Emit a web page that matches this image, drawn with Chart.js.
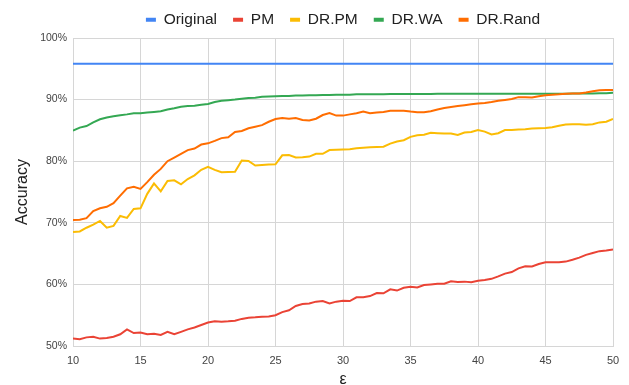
<!DOCTYPE html>
<html><head><meta charset="utf-8">
<script src="https://cdn.jsdelivr.net/npm/chart.js@4.4.1/dist/chart.umd.min.js"></script>
<style>html,body{margin:0;padding:0;background:#fff;}#wrap{width:629px;height:385px;position:relative;}</style>
</head><body><div id="wrap"><canvas id="c"></canvas></div>
<script>
const epsilon = [
  10, 10.5, 11, 11.5, 12, 12.5, 13, 13.5, 14, 14.5,
  15, 15.5, 16, 16.5, 17, 17.5, 18, 18.5, 19, 19.5,
  20, 20.5, 21, 21.5, 22, 22.5, 23, 23.5, 24, 24.5,
  25, 25.5, 26, 26.5, 27, 27.5, 28, 28.5, 29, 29.5,
  30, 30.5, 31, 31.5, 32, 32.5, 33, 33.5, 34, 34.5,
  35, 35.5, 36, 36.5, 37, 37.5, 38, 38.5, 39, 39.5,
  40, 40.5, 41, 41.5, 42, 42.5, 43, 43.5, 44, 44.5,
  45, 45.5, 46, 46.5, 47, 47.5, 48, 48.5, 49, 49.5,
  50
];
const originalEps = [10, 50];
const originalAcc = [95.8, 95.8];
const pmAcc = [
  51.2, 51.1, 51.4, 51.5, 51.2, 51.3, 51.5, 51.9, 52.7, 52.1,
  52.2, 51.9, 52.0, 51.8, 52.3, 51.9, 52.3, 52.7, 53.0, 53.4,
  53.8, 54.0, 53.95, 54.0, 54.1, 54.4, 54.6, 54.65, 54.75, 54.8,
  55.0, 55.5, 55.8, 56.5, 56.8, 56.9, 57.2, 57.3, 56.9, 57.2,
  57.35, 57.3, 57.9, 57.9, 58.1, 58.6, 58.55, 59.2, 59.0, 59.45,
  59.6, 59.5, 59.9, 60.0, 60.1, 60.1, 60.5, 60.4, 60.45, 60.35,
  60.6, 60.7, 60.9, 61.3, 61.75, 62.0, 62.6, 62.95, 62.9, 63.3,
  63.6, 63.6, 63.6, 63.7, 64.0, 64.35, 64.8, 65.1, 65.4, 65.5,
  65.65
];
const drpmAcc = [
  68.5, 68.6, 69.2, 69.7, 70.3, 69.2, 69.5, 71.1, 70.8, 72.25,
  72.35, 74.7, 76.4, 75.1, 76.8, 76.9, 76.25, 77.1, 77.7, 78.6,
  79.1, 78.6, 78.2, 78.25, 78.3, 80.1, 80.05, 79.3, 79.4, 79.45,
  79.5, 80.95, 81.0, 80.6, 80.65, 80.75, 81.2, 81.2, 81.8, 81.85,
  81.9, 81.95, 82.1, 82.2, 82.25, 82.3, 82.35, 82.85, 83.2, 83.4,
  83.95, 84.2, 84.3, 84.6, 84.55, 84.5, 84.5, 84.25, 84.65, 84.75,
  85.05, 84.8, 84.35, 84.55, 85.05, 85.05, 85.15, 85.2, 85.3, 85.35,
  85.4, 85.5, 85.75, 85.95, 86.0, 86.0, 85.9, 86.0, 86.3, 86.4,
  86.85
];
const drwaAcc = [
  84.95, 85.45, 85.7, 86.3, 86.8, 87.1, 87.3, 87.45, 87.6, 87.8,
  87.8, 87.9, 88.0, 88.1, 88.4, 88.6, 88.85, 88.95, 89.0, 89.15,
  89.3, 89.6, 89.8, 89.9, 90.0, 90.15, 90.25, 90.3, 90.45, 90.5,
  90.55, 90.6, 90.6, 90.65, 90.65, 90.7, 90.7, 90.75, 90.75, 90.8,
  90.8, 90.8, 90.85, 90.85, 90.85, 90.85, 90.85, 90.9, 90.9, 90.9,
  90.9, 90.9, 90.9, 90.9, 90.95, 90.95, 90.95, 90.95, 90.95, 90.95,
  90.95, 90.95, 90.95, 90.95, 90.95, 90.95, 90.95, 90.95, 90.95, 90.95,
  90.95, 90.95, 90.95, 90.95, 91.0, 91.0, 91.0, 91.0, 91.05, 91.05,
  91.1
];
const drrandAcc = [
  70.45, 70.5, 70.75, 71.9, 72.35, 72.6, 73.2, 74.4, 75.6, 75.85,
  75.5, 76.6, 77.8, 78.75, 80.0, 80.6, 81.2, 81.8, 82.05, 82.7,
  82.9, 83.3, 83.75, 83.9, 84.75, 84.9, 85.35, 85.6, 85.85, 86.4,
  86.85, 87.0, 86.9, 87.0, 86.7, 86.6, 86.9, 87.5, 87.8, 87.4,
  87.4, 87.6, 87.8, 88.05, 87.8, 87.9, 88.0, 88.2, 88.2, 88.2,
  88.05, 87.95, 87.95, 88.1, 88.4, 88.65, 88.8, 88.95, 89.1, 89.25,
  89.35, 89.45, 89.6, 89.8, 89.95, 90.1, 90.4, 90.4, 90.35, 90.55,
  90.7, 90.8, 90.85, 90.95, 91.0, 91.0, 91.15, 91.35, 91.5, 91.55,
  91.55
];
const seriesNames = ['Original', 'PM', 'DR.PM', 'DR.WA', 'DR.Rand'];
const xTicks = [10, 15, 20, 25, 30, 35, 40, 45, 50];
const yTicks = [50, 60, 70, 80, 90, 100];

const colors = ['#4285F4', '#EA4335', '#FBBC04', '#34A853', '#FF6D01'];
function pts(xs, ys) { return xs.map((x, i) => ({ x: x, y: ys[i] })); }
const seriesData = [
  pts(originalEps, originalAcc),
  pts(epsilon, pmAcc),
  pts(epsilon, drpmAcc),
  pts(epsilon, drwaAcc),
  pts(epsilon, drrandAcc)
];

Chart.defaults.font.family = "'Liberation Sans', Arial, sans-serif";

const legendFix = {
  id: 'legendFix',
  beforeInit(chart) {
    const lg = chart.legend;
    if (!lg) return;
    const fit = lg.fit.bind(lg);
    lg.fit = function () { fit(); this.height = 38; };
    const draw = lg.draw.bind(lg);
    lg.draw = function () {
      const ctx = chart.ctx;
      ctx.save(); ctx.translate(0, -4); draw(); ctx.restore();
    };
  }
};

new Chart(document.getElementById('c'), {
  type: 'line',
  data: {
    datasets: seriesNames.map((name, i) => ({
      label: name,
      data: seriesData[i],
      borderColor: colors[i],
      backgroundColor: colors[i],
      borderWidth: 2,
      pointRadius: 0,
      tension: 0,
      fill: false,
      order: seriesNames.length - i
    }))
  },
  options: {
    responsive: true,
    maintainAspectRatio: false,
    animation: false,
    layout: { padding: { left: 0, right: 16, top: 0, bottom: 0 } },
    plugins: {
      tooltip: { enabled: false },
      legend: {
        position: 'top',
        fullSize: false,
        labels: {
          boxWidth: 10,
          boxHeight: 4,
          padding: 16,
          color: '#222',
          font: { size: 15.5 },
          sort: (a, b) => a.datasetIndex - b.datasetIndex,
          generateLabels(chart) {
            const items = Chart.defaults.plugins.legend.labels.generateLabels(chart);
            items.forEach(it => { it.lineWidth = 0; it.fillStyle = colors[it.datasetIndex]; });
            return items;
          }
        }
      }
    },
    scales: {
      x: {
        type: 'linear',
        min: 10, max: 50,
        afterBuildTicks: s => { s.ticks = xTicks.map(v => ({ value: v })); },
        afterFit: s => { s.height = 39; },
        grid: { color: '#d6d6d6', drawTicks: false },
        border: { color: '#d6d6d6' },
        ticks: { padding: 8, color: '#444', font: { size: 11 }, maxRotation: 0 },
        title: { display: true, text: 'ε', color: '#222', font: { size: 16 }, padding: { top: 0, bottom: -4 } }
      },
      y: {
        min: 50, max: 100,
        afterBuildTicks: s => { s.ticks = yTicks.map(v => ({ value: v })); },
        afterFit: s => { s.width = 73; },
        grid: { color: '#d6d6d6', drawTicks: false },
        border: { color: '#d6d6d6' },
        ticks: { padding: 6, color: '#444', font: { size: 10.5 }, callback: v => v + '%' },
        title: { display: true, text: 'Accuracy', color: '#222', font: { size: 16 }, padding: { top: 13, bottom: 0 } }
      }
    }
  },
  plugins: [legendFix]
});
</script></body></html>
